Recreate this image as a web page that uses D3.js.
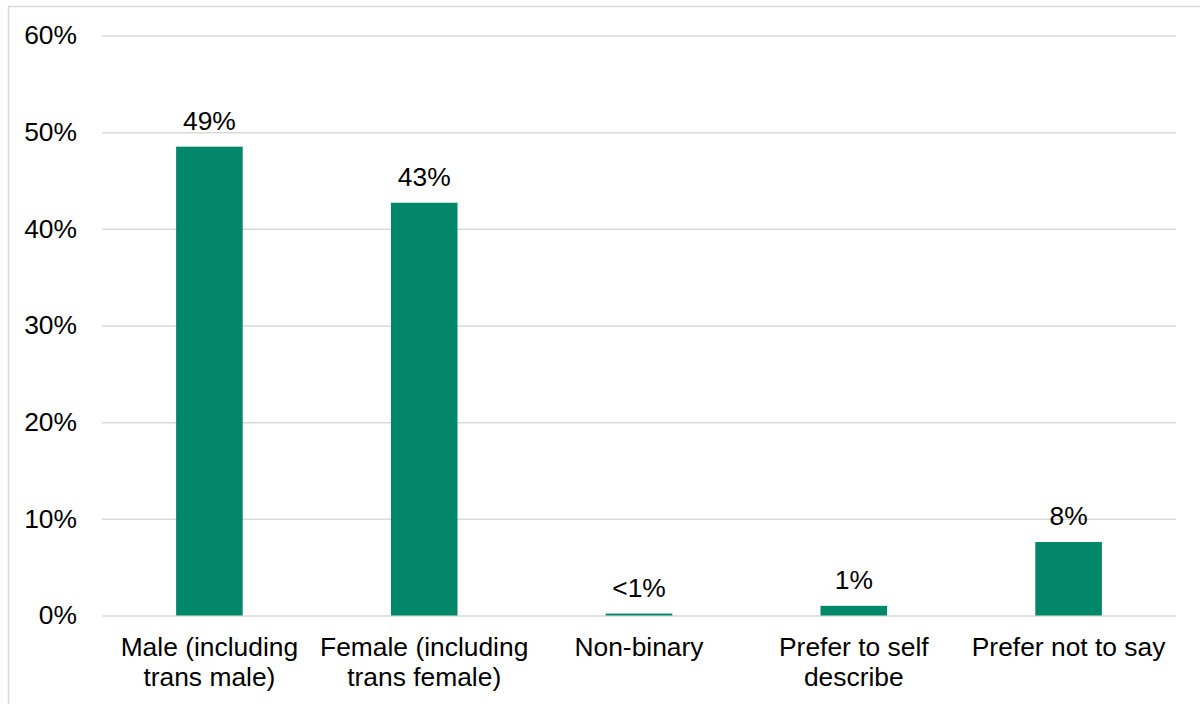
<!DOCTYPE html>
<html>
<head>
<meta charset="utf-8">
<script src="https://cdn.jsdelivr.net/npm/d3@7"></script>
<style>
  html, body { margin: 0; padding: 0; background: #fff; }
  svg { display: block; font-family: "Liberation Sans", Arial, sans-serif; }
</style>
</head>
<body>
<svg id="chart" width="1200" height="704"></svg>
<script>
const categories = [
  ["Male (including", "trans male)"],
  ["Female (including", "trans female)"],
  ["Non-binary"],
  ["Prefer to self", "describe"],
  ["Prefer not to say"]
];
const values = [48.5, 42.7, 0.2, 1.0, 7.6];
const valueLabels = ["49%", "43%", "<1%", "1%", "8%"];
const yTicks = [0, 10, 20, 30, 40, 50, 60];

const svg = d3.select("#chart");
const W = 1200, H = 704;
const margin = { left: 102, right: 24, top: 35.5, bottom: 88.5 };
const FS = 26.4;

svg.append("rect")
  .attr("x", 8.5).attr("y", 6.5)
  .attr("width", 1200).attr("height", 710)
  .attr("fill", "#fff").attr("stroke", "#d9d9d9").attr("stroke-width", 1.5);

const x = d3.scaleBand()
  .domain(d3.range(categories.length))
  .range([margin.left, W - margin.right])
  .paddingInner(0.69).paddingOuter(0.345);

const y = d3.scaleLinear().domain([0, 60]).range([H - margin.bottom, margin.top]);

// gridlines
const yAxis = d3.axisLeft(y).tickValues(yTicks).tickFormat(d => d + "%")
  .tickSize(-(W - margin.right - margin.left)).tickPadding(25);
const gy = svg.append("g").attr("transform", `translate(${margin.left},0)`).call(yAxis);
gy.select(".domain").remove();
gy.selectAll(".tick line").attr("stroke", "#d9d9d9").attr("stroke-width", 1.5);
gy.selectAll(".tick text").attr("font-size", FS).attr("fill", "#000")
  .attr("font-family", "Liberation Sans, Arial, sans-serif");

// bars
svg.append("g").selectAll("rect").data(values).join("rect")
  .attr("x", (d, i) => x(i))
  .attr("width", x.bandwidth())
  .attr("y", d => y(d))
  .attr("height", d => y(0) - y(d))
  .attr("fill", "#03876a");

// value labels
svg.append("g").selectAll("text").data(values).join("text")
  .attr("x", (d, i) => x(i) + x.bandwidth() / 2)
  .attr("y", d => y(d) - 17)
  .attr("text-anchor", "middle")
  .attr("font-size", FS)
  .attr("fill", "#000")
  .text((d, i) => valueLabels[i]);

// category labels
const cat = svg.append("g").selectAll("text").data(categories).join("text")
  .attr("x", (d, i) => x(i) + x.bandwidth() / 2)
  .attr("y", 656)
  .attr("text-anchor", "middle")
  .attr("font-size", FS)
  .attr("fill", "#000");
cat.selectAll("tspan").data(d => d).join("tspan")
  .attr("x", function() { return d3.select(this.parentNode).attr("x"); })
  .attr("dy", (d, j) => j === 0 ? 0 : 30)
  .text(d => d);
</script>
</body>
</html>
